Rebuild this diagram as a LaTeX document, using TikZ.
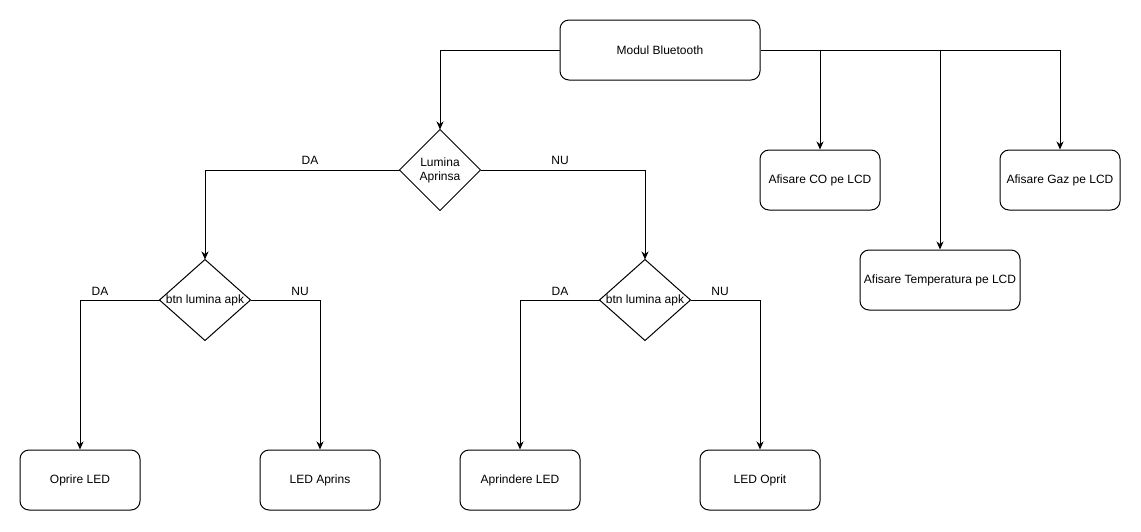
\documentclass[tikz,border=0pt]{standalone}
\usepackage{fontspec}
\setmainfont{Liberation Sans}
\usetikzlibrary{arrows.meta}
\begin{document}
\begin{tikzpicture}[x=1pt,y=-1pt,line width=1pt,
  txt/.style={font=\fontsize{12}{14}\selectfont},
  box/.style={txt,draw,rounded corners=9pt,minimum width=120pt,minimum height=60pt,inner sep=0pt,align=center},
  dia/.style={txt,minimum width=#1,minimum height=80pt,inner sep=0pt,align=center},
  arr/.style={-{Stealth[length=8pt,width=7pt,inset=2.5pt]}},
  lbl/.style={txt,inner sep=0pt}]
\useasboundingbox (0,0) rectangle (1141,531);
\fill[white] (0,0) rectangle (1141,531);
% nodes
\node[box,minimum width=200pt] (bt) at (660,50) {Modul Bluetooth};
\node[dia=80pt] (lum) at (440,170) {Lumina\\Aprinsa};
\draw (lum.north)--(lum.east)--(lum.south)--(lum.west)--cycle;
\node[dia=90pt] (b1) at (205,300) {btn lumina apk};
\draw (b1.north)--(b1.east)--(b1.south)--(b1.west)--cycle;
\node[dia=90pt] (b2) at (645,300) {btn lumina apk};
\draw (b2.north)--(b2.east)--(b2.south)--(b2.west)--cycle;
\node[box] (co) at (820,180) {Afisare CO pe LCD};
\node[box] (gaz) at (1060,180) {Afisare Gaz pe LCD};
\node[box,minimum width=160pt] (temp) at (940,280) {Afisare Temperatura pe LCD};
\node[box] (oprire) at (80,480) {Oprire LED};
\node[box] (aprins) at (320,480) {LED Aprins};
\node[box] (aprindere) at (520,480) {Aprindere LED};
\node[box] (oprit) at (760,480) {LED Oprit};
% connectors
\draw[arr] (bt.west) -| (lum.north);
\draw[arr] (bt.east) -| (gaz.north);
\draw[arr] (bt.east -| co.north) -- (co.north);
\draw[arr] (bt.east -| temp.north) -- (temp.north);
\draw[arr] (lum.west) -| (b1.north);
\draw[arr] (lum.east) -| (b2.north);
\draw[arr] (b1.west) -| (oprire.north);
\draw[arr] (b1.east) -| (aprins.north);
\draw[arr] (b2.west) -| (aprindere.north);
\draw[arr] (b2.east) -| (oprit.north);
% labels
\node[lbl] (da1) at (310,160) {DA};
\node[lbl] (nu1) at (560,160) {NU};
\node[lbl] (da2) at (100,291) {DA};
\node[lbl] (nu2) at (300,291) {NU};
\node[lbl] (da3) at (560,291) {DA};
\node[lbl] (nu3) at (720,291) {NU};
\end{tikzpicture}
\end{document}
